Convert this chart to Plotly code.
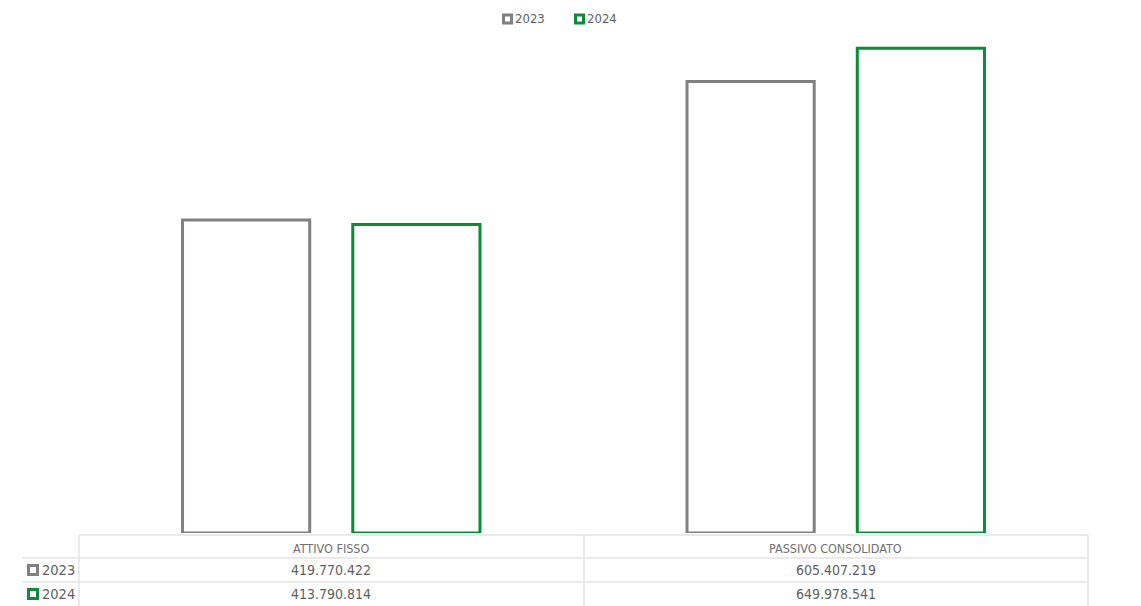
import plotly.graph_objects as go

categories = ["ATTIVO FISSO", "PASSIVO CONSOLIDATO"]
series_names = ["2023", "2024"]
values_2023 = [419770422, 605407219]
values_2024 = [413790814, 649978541]
series_values = [values_2023, values_2024]
series_colors = ["#808080", "#0E8A3A"]

W, H = 1141, 606
FONT = "DejaVu Sans Condensed, Roboto, sans-serif"
TXT = "#5F5F5F"
GRID = "#E3E3E3"


def px(x):
    return x / W


def py(y):
    return 1 - y / H


def fmt(v):
    return f"{v:,}".replace(",", ".")


fig = go.Figure()
for name, vals, col in zip(series_names, series_values, series_colors):
    fig.add_trace(go.Bar(
        x=categories, y=vals, name=name,
        marker=dict(color="white", line=dict(color=col, width=3)),
        showlegend=False,
    ))

ymax = max(max(v) for v in series_values)
# base 533 px, top of plot area 30 px; tallest bar top at ~48.3 px
y_top_range = ymax * (533 - 30) / (533 - 48.3)

shapes = []
annotations = []

# table grid
x_left, x_label, x_mid, x_right = 22, 79, 584, 1088
rows_y = [535, 558, 582, 606]
line = dict(color=GRID, width=1.5)
shapes.append(dict(type="line", xref="paper", yref="paper", x0=px(x_label), x1=px(x_right),
                   y0=py(rows_y[0]), y1=py(rows_y[0]), line=line))
for ry in rows_y[1:3]:
    shapes.append(dict(type="line", xref="paper", yref="paper", x0=px(x_left), x1=px(x_right),
                       y0=py(ry), y1=py(ry), line=line))
for vx in (x_label, x_mid, x_right):
    shapes.append(dict(type="line", xref="paper", yref="paper", x0=px(vx), x1=px(vx),
                       y0=py(rows_y[0]), y1=py(606), line=line))

# header
for cat in categories:
    annotations.append(dict(x=cat, xref="x", y=py(548), yref="paper", text=cat,
                            showarrow=False, xanchor="center", yanchor="middle",
                            font=dict(family=FONT, size=12.5, color="#707070")))

# rows
row_centers = [570, 594]
for name, vals, col, rc in zip(series_names, series_values, series_colors, row_centers):
    shapes.append(dict(type="rect", xref="paper", yref="paper",
                       x0=px(28.5), x1=px(37.5), y0=py(rc - 4.5), y1=py(rc + 4.5),
                       line=dict(color=col, width=3), fillcolor="white"))
    annotations.append(dict(x=px(40), xref="paper", y=py(rc), yref="paper", text=name,
                            showarrow=False, xanchor="left", yanchor="middle",
                            font=dict(family=FONT, size=14.5, color=TXT)))
    for cat, v in zip(categories, vals):
        annotations.append(dict(x=cat, xref="x", y=py(rc), yref="paper", text=fmt(v),
                                showarrow=False, xanchor="center", yanchor="middle",
                                font=dict(family=FONT, size=14, color=TXT)))

# legend (top)
legend_pos = [(502, 513), (574, 585)]
for name, col, (sx, tx) in zip(series_names, series_colors, legend_pos):
    shapes.append(dict(type="rect", xref="paper", yref="paper",
                       x0=px(sx + 1.5), x1=px(sx + 9.5), y0=py(19 - 4), y1=py(19 + 4),
                       line=dict(color=col, width=3), fillcolor="white"))
    annotations.append(dict(x=px(tx), xref="paper", y=py(19), yref="paper", text=name,
                            showarrow=False, xanchor="left", yanchor="middle",
                            font=dict(family=FONT, size=13, color=TXT)))

fig.update_layout(
    width=W, height=H,
    margin=dict(l=0, r=0, t=0, b=0),
    paper_bgcolor="white", plot_bgcolor="white",
    barmode="group", bargap=0.325, bargroupgap=0.253,
    showlegend=False,
    xaxis=dict(domain=[px(x_label), px(x_right)], showticklabels=False,
               showgrid=False, zeroline=False, showline=False),
    yaxis=dict(domain=[py(533), py(30)], range=[0, y_top_range],
               showticklabels=False, showgrid=False, zeroline=False, showline=False),
    shapes=shapes,
    annotations=annotations,
    font=dict(family=FONT, color=TXT),
)

fig.write_html("out.html")
